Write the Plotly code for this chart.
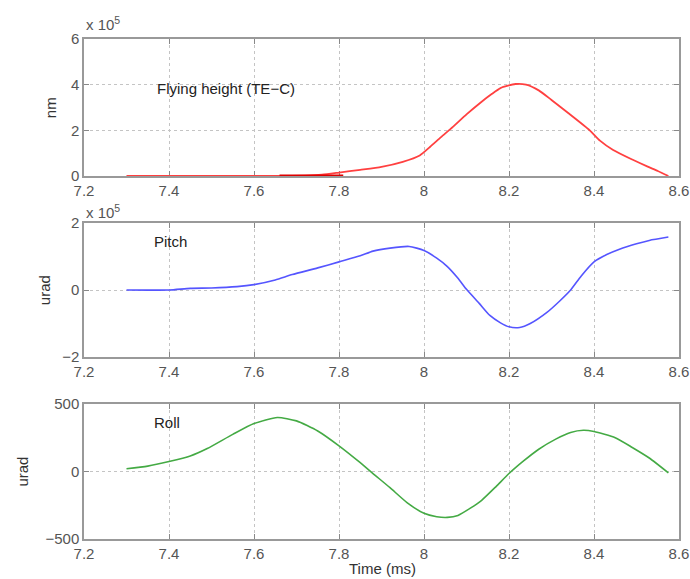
import plotly.graph_objects as go
from plotly.subplots import make_subplots

# ---- data ----
t_fh = [7.30, 7.40, 7.50, 7.60, 7.66, 7.72, 7.76, 7.80, 7.85, 7.90, 7.95, 7.99, 8.014, 8.04, 8.068,
        8.10, 8.132, 8.16, 8.18, 8.215, 8.24, 8.27, 8.30, 8.34, 8.39, 8.414, 8.445, 8.49, 8.525, 8.55, 8.575]
fh = [0.0, 0.0, 0.0, 0.0, 0.0, 0.02, 0.06, 0.15, 0.27, 0.40, 0.62, 0.90, 1.27, 1.70, 2.15,
      2.70, 3.20, 3.60, 3.85, 4.03, 4.00, 3.75, 3.33, 2.75, 2.0, 1.55, 1.14, 0.72, 0.42, 0.22, 0.0]
t_fh_dark = [7.66, 7.81]
fh_dark = [0.0, 0.0]

t_pitch = [7.30, 7.40, 7.45, 7.50, 7.56, 7.60, 7.65, 7.69, 7.75, 7.80, 7.85, 7.88, 7.92, 7.965,
           8.00, 8.03, 8.055, 8.08, 8.10, 8.13, 8.155, 8.18, 8.20, 8.225, 8.25, 8.29, 8.32, 8.345,
           8.37, 8.40, 8.43, 8.46, 8.50, 8.53, 8.575]
pitch = [0.0, 0.0, 0.05, 0.06, 0.10, 0.16, 0.30, 0.46, 0.66, 0.84, 1.02, 1.16, 1.25, 1.30,
         1.18, 0.95, 0.70, 0.35, 0.02, -0.40, -0.76, -0.98, -1.10, -1.12, -1.00, -0.66, -0.32, 0.0,
         0.42, 0.84, 1.06, 1.22, 1.38, 1.48, 1.58]

t_roll = [7.30, 7.35, 7.40, 7.45, 7.49, 7.55, 7.60, 7.655, 7.70, 7.75, 7.80, 7.85, 7.88, 7.92,
          7.96, 8.00, 8.03, 8.055, 8.08, 8.11, 8.135, 8.17, 8.20, 8.235, 8.27, 8.31, 8.345, 8.375,
          8.40, 8.45, 8.49, 8.53, 8.575]
roll = [20, 40, 74, 115, 170, 275, 355, 400, 375, 300, 190, 65, -15, -120,
        -230, -310, -335, -340, -325, -270, -215, -110, -15, 80, 165, 240, 289, 305,
        296, 250, 178, 100, -10]

x_ticks = [7.2, 7.4, 7.6, 7.8, 8.0, 8.2, 8.4, 8.6]
x_tick_text = ["7.2", "7.4", "7.6", "7.8", "8", "8.2", "8.4", "8.6"]

FONT = "Liberation Sans, Arial, sans-serif"
GRAY = "#555555"

fig = make_subplots(rows=3, cols=1, shared_xaxes=False, vertical_spacing=0.09)

fig.add_trace(go.Scatter(x=t_fh, y=fh, mode="lines", cliponaxis=False,
                         line=dict(color="#ff4040", width=1.8, shape="spline", smoothing=0.6),
                         showlegend=False), row=1, col=1)
fig.add_trace(go.Scatter(x=t_fh_dark, y=fh_dark, mode="lines", cliponaxis=False,
                         line=dict(color="#dd0000", width=3),
                         showlegend=False), row=1, col=1)
fig.add_trace(go.Scatter(x=t_pitch, y=pitch, mode="lines", line=dict(color="#5555ff", width=1.6, shape="spline", smoothing=0.6),
                         showlegend=False), row=2, col=1)
fig.add_trace(go.Scatter(x=t_roll, y=roll, mode="lines", line=dict(color="#44aa44", width=1.6, shape="spline", smoothing=0.6),
                         showlegend=False), row=3, col=1)

axis_common = dict(showline=True, linecolor="#999999", linewidth=1.5, mirror="ticks",
                   ticks="inside", ticklen=5, tickcolor="#888888", automargin=False,
                   showgrid=True, gridcolor="#c4c4c4", griddash="dot", gridwidth=1,
                   zeroline=False, layer="below traces",
                   tickfont=dict(family=FONT, size=15, color=GRAY))

doms = [[0.726, 1.0], [0.364, 0.632], [0.0, 0.27]]
for i in range(3):
    fig.update_xaxes(range=[7.2, 8.6], tickvals=x_ticks, ticktext=x_tick_text,
                     domain=[0, 1], row=i + 1, col=1, **axis_common)
fig.update_yaxes(range=[0, 6], tickvals=[0, 2, 4, 6], domain=doms[0], row=1, col=1, **axis_common)
fig.update_yaxes(range=[-2, 2], tickvals=[-2, 0, 2], domain=doms[1], row=2, col=1, **axis_common)
fig.update_yaxes(range=[-500, 500], tickvals=[-500, 0, 500], domain=doms[2], row=3, col=1, **axis_common)

ann_font = dict(family=FONT, size=15, color="#222222")
title_font = dict(family=FONT, size=15, color="#333333")
anns = [
    dict(x=7.367, y=3.85, xref="x", yref="y", text="Flying height (TE\u2212C)", showarrow=False,
         xanchor="left", yanchor="middle", font=ann_font),
    dict(x=7.36, y=1.45, xref="x2", yref="y2", text="Pitch", showarrow=False,
         xanchor="left", yanchor="middle", font=ann_font),
    dict(x=7.36, y=360, xref="x3", yref="y3", text="Roll", showarrow=False,
         xanchor="left", yanchor="middle", font=ann_font),
    dict(x=0.0, y=1.0, xref="paper", yref="paper", text="x 10<sup>5</sup>", showarrow=False,
         xanchor="left", yanchor="bottom", yshift=4, font=dict(family=FONT, size=15, color=GRAY)),
    dict(x=0.0, y=0.632, xref="paper", yref="paper", text="x 10<sup>5</sup>", showarrow=False,
         xanchor="left", yanchor="bottom", yshift=0, font=dict(family=FONT, size=15, color=GRAY)),
    dict(x=-0.056, y=0.863, xref="paper", yref="paper", text="nm", showarrow=False, textangle=-90,
         xanchor="center", yanchor="middle", font=title_font),
    dict(x=-0.067, y=0.498, xref="paper", yref="paper", text="urad", showarrow=False, textangle=-90,
         xanchor="center", yanchor="middle", font=title_font),
    dict(x=-0.104, y=0.135, xref="paper", yref="paper", text="urad", showarrow=False, textangle=-90,
         xanchor="center", yanchor="middle", font=title_font),
    dict(x=0.502, y=-0.058, xref="paper", yref="paper", text="Time (ms)", showarrow=False,
         xanchor="center", yanchor="middle", font=title_font),
]
fig.update_layout(annotations=anns)

fig.update_layout(width=690, height=579, margin=dict(l=84, r=11, t=39, b=40, autoexpand=False),
                  paper_bgcolor="white", plot_bgcolor="white",
                  font=dict(family=FONT, size=15, color=GRAY))

# remove the browser's default body margin so the 690x579 figure fills the window exactly
fig.write_html("out.html", config={"displayModeBar": False},
               post_script="document.body.style.margin='0';document.body.style.overflow='hidden';")
